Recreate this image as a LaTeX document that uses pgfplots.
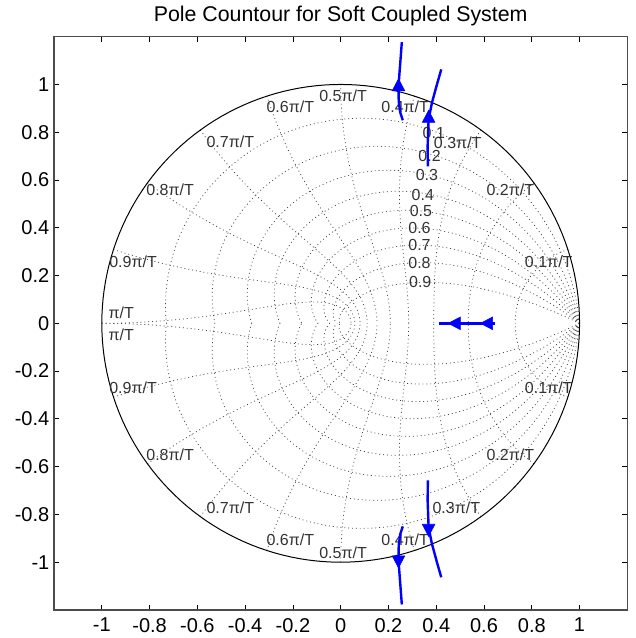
\documentclass[border=0pt]{standalone}
\usepackage{fontspec}
\setmainfont{Liberation Sans}
\usepackage{pgfplots}
\pgfplotsset{compat=1.18}
\pgfplotsset{zg/.style={black!75, line width=0.55pt, dash pattern=on 0.7pt off 2.2pt, smooth}}
\begin{document}
\begin{tikzpicture}
\begin{axis}[name=ax, scale only axis, width=429.75pt, height=429.75pt,
 xmin=-1.2, xmax=1.2, ymin=-1.2, ymax=1.2,
 xtick={-1,-0.8,-0.6,-0.4,-0.2,0,0.2,0.4,0.6,0.8,1},
 ytick={-1,-0.8,-0.6,-0.4,-0.2,0,0.2,0.4,0.6,0.8,1},
 tick align=inside, major tick length=4pt,
 tick style={black, line width=0.6pt},
 axis line style={black!70, line width=0.9pt},
 ticklabel style={font=\fontsize{15}{18}\selectfont},
 xticklabel style={yshift=-2.5pt},
 /pgf/number format/assume math mode=true,
 /pgf/number format/fixed,
 title={Pole Countour for Soft Coupled System},
 title style={font=\fontsize{16}{19}\selectfont, anchor=base, at={(0.5,1)}, yshift=5.5pt},
 clip=true,
]
% damping-ratio grid curves
\pgfplotsinvokeforeach{0.1,0.2,0.3,0.4,0.5,0.6,0.7,0.8,0.9}{
 \addplot[zg, domain=0:180, samples=120, variable=\t]
   ({exp(-#1*rad(\t)/sqrt(1-#1*#1))*cos(\t)}, {exp(-#1*rad(\t)/sqrt(1-#1*#1))*sin(\t)});
 \addplot[zg, domain=0:180, samples=120, variable=\t]
   ({exp(-#1*rad(\t)/sqrt(1-#1*#1))*cos(\t)}, {-exp(-#1*rad(\t)/sqrt(1-#1*#1))*sin(\t)});
}
% natural-frequency grid curves
\pgfplotsinvokeforeach{1,2,3,4,5,6,7,8,9,10}{
 \addplot[zg, domain=0:90, samples=100, variable=\t]
   ({exp(-#1*pi/10*sin(\t))*cos(#1*18*cos(\t))}, {exp(-#1*pi/10*sin(\t))*sin(#1*18*cos(\t))});
 \addplot[zg, domain=0:90, samples=100, variable=\t]
   ({exp(-#1*pi/10*sin(\t))*cos(#1*18*cos(\t))}, {-exp(-#1*pi/10*sin(\t))*sin(#1*18*cos(\t))});
}
% unit circle
\addplot[black, line width=0.75pt, domain=0:360, samples=181, variable=\t] ({cos(\t)},{sin(\t)});

% labels
\begin{scope}[every node/.style={font=\fontsize{12}{14}\selectfont, text=black!80, inner sep=0pt}]
\node at (axis cs:0.871,0.258) {0.1π/T};
\node at (axis cs:0.71,0.56) {0.2π/T};
\node at (axis cs:0.490,0.757) {0.3π/T};
\node at (axis cs:0.27,0.908) {0.4π/T};
\node at (axis cs:0.01,0.954) {0.5π/T};
\node at (axis cs:-0.211,0.908) {0.6π/T};
\node at (axis cs:-0.462,0.761) {0.7π/T};
\node at (axis cs:-0.714,0.56) {0.8π/T};
\node at (axis cs:-0.869,0.258) {0.9π/T};
\node at (axis cs:-0.919,0.046) {π/T};
\node at (axis cs:-0.919,-0.048) {π/T};
\node at (axis cs:0.871,-0.27) {0.1π/T};
\node at (axis cs:0.71,-0.55) {0.2π/T};
\node at (axis cs:0.484,-0.774) {0.3π/T};
\node at (axis cs:0.27,-0.908) {0.4π/T};
\node at (axis cs:0.01,-0.96) {0.5π/T};
\node at (axis cs:-0.211,-0.908) {0.6π/T};
\node at (axis cs:-0.462,-0.774) {0.7π/T};
\node at (axis cs:-0.714,-0.55) {0.8π/T};
\node at (axis cs:-0.869,-0.27) {0.9π/T};
\node at (axis cs:0.390,0.795) {0.1};
\node at (axis cs:0.372,0.700) {0.2};
\node at (axis cs:0.361,0.622) {0.3};
\node at (axis cs:0.344,0.539) {0.4};
\node at (axis cs:0.336,0.469) {0.5};
\node at (axis cs:0.330,0.399) {0.6};
\node at (axis cs:0.330,0.329) {0.7};
\node at (axis cs:0.330,0.252) {0.8};
\node at (axis cs:0.333,0.171) {0.9};
\end{scope}

% root contour
\addplot[blue, line width=1.8pt] coordinates {(0.260,0.850) (0.249,0.884) (0.243,0.93) (0.242,0.993) (0.249,1.085) (0.256,1.177)};
\addplot[blue, line width=1.8pt] coordinates {(0.260,-0.850) (0.249,-0.884) (0.243,-0.93) (0.242,-0.993) (0.249,-1.085) (0.256,-1.177)};
\addplot[blue, line width=1.8pt] coordinates {(0.365,0.657) (0.364,0.741) (0.368,0.853) (0.382,0.923) (0.401,0.993) (0.421,1.063)};
\addplot[blue, line width=1.8pt] coordinates {(0.365,-0.657) (0.364,-0.741) (0.368,-0.853) (0.382,-0.923) (0.401,-0.993) (0.421,-1.063)};
\addplot[blue, line width=1.8pt] coordinates {(0.41,0) (0.647,0)};
% arrows
\addplot[only marks, blue, mark=triangle*, mark size=5.5pt, mark options={yscale=1.1}] coordinates {(0.242,0.99) (0.368,0.858)};
\addplot[only marks, blue, mark=triangle*, mark size=5.5pt, mark options={rotate=180, yscale=1.1}] coordinates {(0.242,-0.99) (0.368,-0.858)};
\addplot[only marks, blue, mark=triangle*, mark size=5.5pt, mark options={rotate=90, yscale=1.1}] coordinates {(0.484,0) (0.619,0)};
\end{axis}
\pgfresetboundingbox
\path ([shift={(-40.5pt,-21pt)}]ax.south west) rectangle ([shift={(6pt,27.5pt)}]ax.north east);
\end{tikzpicture}
\end{document}
